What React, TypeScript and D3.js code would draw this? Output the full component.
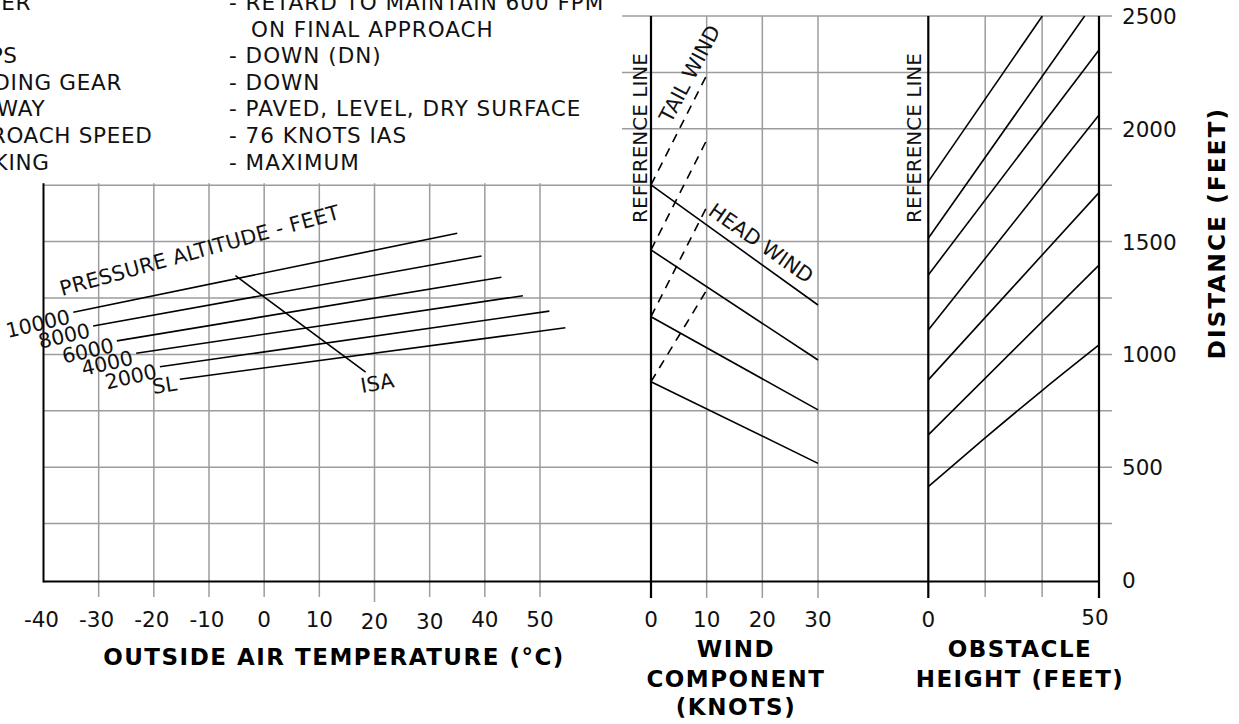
import React from 'react';
import * as d3 from 'd3';

// ---------- data ----------
const conditionNames = ['POWER', '', 'FLAPS', 'LANDING GEAR', 'RUNWAY', 'APPROACH SPEED', 'BRAKING'];
const conditionValues = [
  '- RETARD TO MAINTAIN 600 FPM',
  '  ON FINAL APPROACH',
  '- DOWN (DN)',
  '- DOWN',
  '- PAVED, LEVEL, DRY SURFACE',
  '- 76 KNOTS IAS',
  '- MAXIMUM',
];

const tempTicks = [-40, -30, -20, -10, 0, 10, 20, 30, 40, 50];
const tempGrid = [-30, -20, -10, 0, 10, 20, 30, 40, 50];
const windTicks = [0, 10, 20, 30];
const obstacleTicks = [0, 50];
const obstacleGrid = [50 / 3, 100 / 3];
const distanceTicks = [0, 500, 1000, 1500, 2000, 2500];
const distanceGrid = [250, 500, 750, 1000, 1250, 1500, 1750, 2000, 2250, 2500];

// pressure altitude lines: temperature (°C) and distance (ft) at both ends
const altitudeLabels = ['10000', '8000', '6000', '4000', '2000', 'SL'];
const altStartTemp = [-34.6, -31.0, -26.7, -23.2, -18.9, -15.3];
const altStartDist = [1187, 1126, 1060, 1005, 945, 890];
const altEndTemp = [35.0, 39.4, 43.0, 46.9, 51.7, 54.6];
const altEndDist = [1537, 1436, 1342, 1260, 1192, 1118];

// ISA line
const isaTemp = [-5.2, 18.4];
const isaDist = [1349, 921];

// wind component lines (distance at reference line, 30 kt head wind, 10 kt tail wind)
const windRefDist = [1751, 1463, 1167, 879];
const headWind30Dist = [1219, 975, 754, 517];
const tailWind10Dist = [2238, 1950, 1653, 1285];

// obstacle height lines: [height ft, distance ft]
const obstacleLines: [number, number][][] = [
  [[0, 1766], [33.4, 2500]],
  [[0, 1515], [45.8, 2500]],
  [[0, 1352], [50, 2349]],
  [[0, 1108], [50, 2061]],
  [[0, 887], [50, 1717]],
  [[0, 643], [50, 1396]],
  [[0, 414], [16.9, 633], [33.5, 842], [50, 1042]],
];

// ---------- layout ----------
const W = 1239;
const H = 724;
const xTemp = d3.scaleLinear().domain([-40, 50]).range([43.5, 540]);
const xWind = d3.scaleLinear().domain([0, 30]).range([651, 818]);
const xObs = d3.scaleLinear().domain([0, 50]).range([928.3, 1099]);
const y = d3.scaleLinear().domain([0, 2500]).range([580, 16]);

const GRID = '#9c9c9c';
const FONT = 'DejaVu Sans, Verdana, sans-serif';

export default function App() {
  const line = d3.line<[number, number]>().x((d) => d[0]).y((d) => d[1]);
  const obsLine = d3
    .line<[number, number]>()
    .x((d) => xObs(d[0]))
    .y((d) => y(d[1]))
    .curve(d3.curveMonotoneX);

  const tickBottom = 597;
  const topLeft = y(1750);
  const top = y(2500);
  const reg = { fontFamily: FONT, fontSize: 21.5, fill: '#111' } as const;
  const bold = { fontFamily: FONT, fontSize: 23, fontWeight: 700, letterSpacing: 1.5, fill: '#000' } as const;

  return (
    <svg
      width={W}
      height={H}
      viewBox={`0 0 ${W} ${H}`}
      style={{ position: 'absolute', left: 0, top: 0, background: '#fff', display: 'block' }}
    >
      <rect x={0} y={0} width={W} height={H} fill="#fff" />

      {/* header conditions */}
      {conditionNames.map((n, i) => (
        <text key={'n' + i} x={-52} y={10 + i * 26.6} {...reg} letterSpacing={0.7}>
          {n}
        </text>
      ))}
      {conditionValues.map((v, i) => (
        <text
          key={'v' + i}
          x={v.startsWith(' ') ? 251 : 229}
          y={10 + i * 26.6}
          {...reg}
          letterSpacing={1.0}
        >
          {v.trim()}
        </text>
      ))}

      {/* horizontal grid */}
      {distanceGrid.map((d) => (
        <line
          key={'hg' + d}
          x1={d > 1750 ? 622 : xTemp(-40)}
          x2={1112}
          y1={y(d)}
          y2={y(d)}
          stroke={GRID}
          strokeWidth={1.5}
        />
      ))}

      {/* vertical grid: temperature */}
      {tempGrid.map((t) => (
        <line
          key={'tg' + t}
          x1={xTemp(t)}
          x2={xTemp(t)}
          y1={topLeft - 2}
          y2={t === 20 ? tickBottom + 5 : tickBottom}
          stroke={GRID}
          strokeWidth={1.5}
        />
      ))}
      {/* vertical grid: wind */}
      {windTicks.slice(1).map((w) => (
        <line key={'wg' + w} x1={xWind(w)} x2={xWind(w)} y1={top} y2={tickBottom + 1} stroke={GRID} strokeWidth={1.5} />
      ))}
      {/* vertical grid: obstacle */}
      {obstacleGrid.map((o) => (
        <line key={'og' + o} x1={xObs(o)} x2={xObs(o)} y1={top} y2={tickBottom} stroke={GRID} strokeWidth={1.5} />
      ))}

      {/* black axes / reference lines */}
      <line x1={xTemp(-40)} x2={xObs(50)} y1={y(0) + 1.5} y2={y(0) + 1.5} stroke="#000" strokeWidth={2} />
      <line x1={xTemp(-40)} x2={xTemp(-40)} y1={topLeft - 2} y2={y(0) + 2.5} stroke="#000" strokeWidth={2} />
      <line x1={xWind(0)} x2={xWind(0)} y1={top} y2={tickBottom + 1} stroke="#000" strokeWidth={2.2} />
      <line x1={xObs(0)} x2={xObs(0)} y1={top} y2={tickBottom + 1} stroke="#000" strokeWidth={2.2} />
      <line x1={xObs(50)} x2={xObs(50)} y1={top} y2={tickBottom + 1} stroke="#000" strokeWidth={2.2} />

      {/* pressure altitude lines */}
      {altitudeLabels.map((lab, i) => {
        const x0 = xTemp(altStartTemp[i]);
        const y0 = y(altStartDist[i]);
        const lx = x0 - 2;
        const ly = y0 + 11;
        return (
          <g key={'alt' + lab}>
            <path
              d={line([[x0, y0], [xTemp(altEndTemp[i]), y(altEndDist[i])]]) || ''}
              stroke="#000"
              strokeWidth={1.6}
              fill="none"
            />
            <text
              x={lx}
              y={ly}
              textAnchor="end"
              transform={`rotate(${lab === 'SL' ? -9 : -13} ${lx} ${ly})`}
              {...reg}
              fontSize={20.5}
            >
              {lab}
            </text>
          </g>
        );
      })}
      <path
        d={line([[xTemp(isaTemp[0]), y(isaDist[0])], [xTemp(isaTemp[1]), y(isaDist[1])]]) || ''}
        stroke="#000"
        strokeWidth={1.6}
        fill="none"
      />
      <text x={362} y={393} transform="rotate(-10 362 393)" {...reg} fontSize={20.5}>
        ISA
      </text>
      <text x={62} y={296} transform="rotate(-15.5 62 296)" {...reg} fontSize={20.5} letterSpacing={0.3}>
        PRESSURE ALTITUDE - FEET
      </text>

      {/* wind component lines */}
      {windRefDist.map((d, i) => (
        <g key={'wind' + i}>
          <path
            d={line([[xWind(0), y(d)], [xWind(30), y(headWind30Dist[i])]]) || ''}
            stroke="#000"
            strokeWidth={1.6}
            fill="none"
          />
          <path
            d={line([[xWind(0), y(d)], [xWind(10), y(tailWind10Dist[i])]]) || ''}
            stroke="#000"
            strokeWidth={1.6}
            strokeDasharray="9,7"
            fill="none"
          />
        </g>
      ))}
      <text x={671} y={124} transform="rotate(-62 671 124)" {...reg} fontSize={20.5}>
        TAIL WIND
      </text>
      <text x={707} y={214} transform="rotate(35 707 214)" {...reg} fontSize={20.5}>
        HEAD WIND
      </text>
      <text x={647} y={138} textAnchor="middle" transform="rotate(-90 647 138)" {...reg} fontSize={20}>
        REFERENCE LINE
      </text>
      <text x={921} y={138} textAnchor="middle" transform="rotate(-90 921 138)" {...reg} fontSize={20}>
        REFERENCE LINE
      </text>

      {/* obstacle lines */}
      {obstacleLines.map((pts, i) => (
        <path key={'obs' + i} d={obsLine(pts) || ''} stroke="#000" strokeWidth={1.6} fill="none" />
      ))}

      {/* tick labels */}
      {tempTicks.map((t) => (
        <text key={'tl' + t} x={xTemp(t) - (t < 0 ? 2 : 0)} y={t === 20 || t === 30 ? 629 : 627} textAnchor="middle" {...reg}>
          {t}
        </text>
      ))}
      {windTicks.map((w) => (
        <text key={'wl' + w} x={xWind(w)} y={627} textAnchor="middle" {...reg}>
          {w}
        </text>
      ))}
      {obstacleTicks.map((o) => (
        <text key={'ol' + o} x={xObs(o) - (o === 50 ? 4 : 0)} y={o === 50 ? 625 : 627} textAnchor="middle" {...reg}>
          {o}
        </text>
      ))}
      {distanceTicks.map((d) => (
        <text key={'dl' + d} x={1122} y={y(d) + 8} {...reg}>
          {d}
        </text>
      ))}

      {/* axis titles */}
      <text x={334} y={665} textAnchor="middle" {...bold}>
        OUTSIDE AIR TEMPERATURE (°C)
      </text>
      <text x={736} y={657} textAnchor="middle" {...bold}>
        WIND
      </text>
      <text x={736} y={687} textAnchor="middle" {...bold}>
        COMPONENT
      </text>
      <text x={736} y={715} textAnchor="middle" {...bold}>
        (KNOTS)
      </text>
      <text x={1020} y={657} textAnchor="middle" {...bold}>
        OBSTACLE
      </text>
      <text x={1020} y={687} textAnchor="middle" {...bold}>
        HEIGHT (FEET)
      </text>
      <text x={1225} y={233} textAnchor="middle" transform="rotate(-90 1225 233)" {...bold} letterSpacing={2.2}>
        DISTANCE (FEET)
      </text>
    </svg>
  );
}
